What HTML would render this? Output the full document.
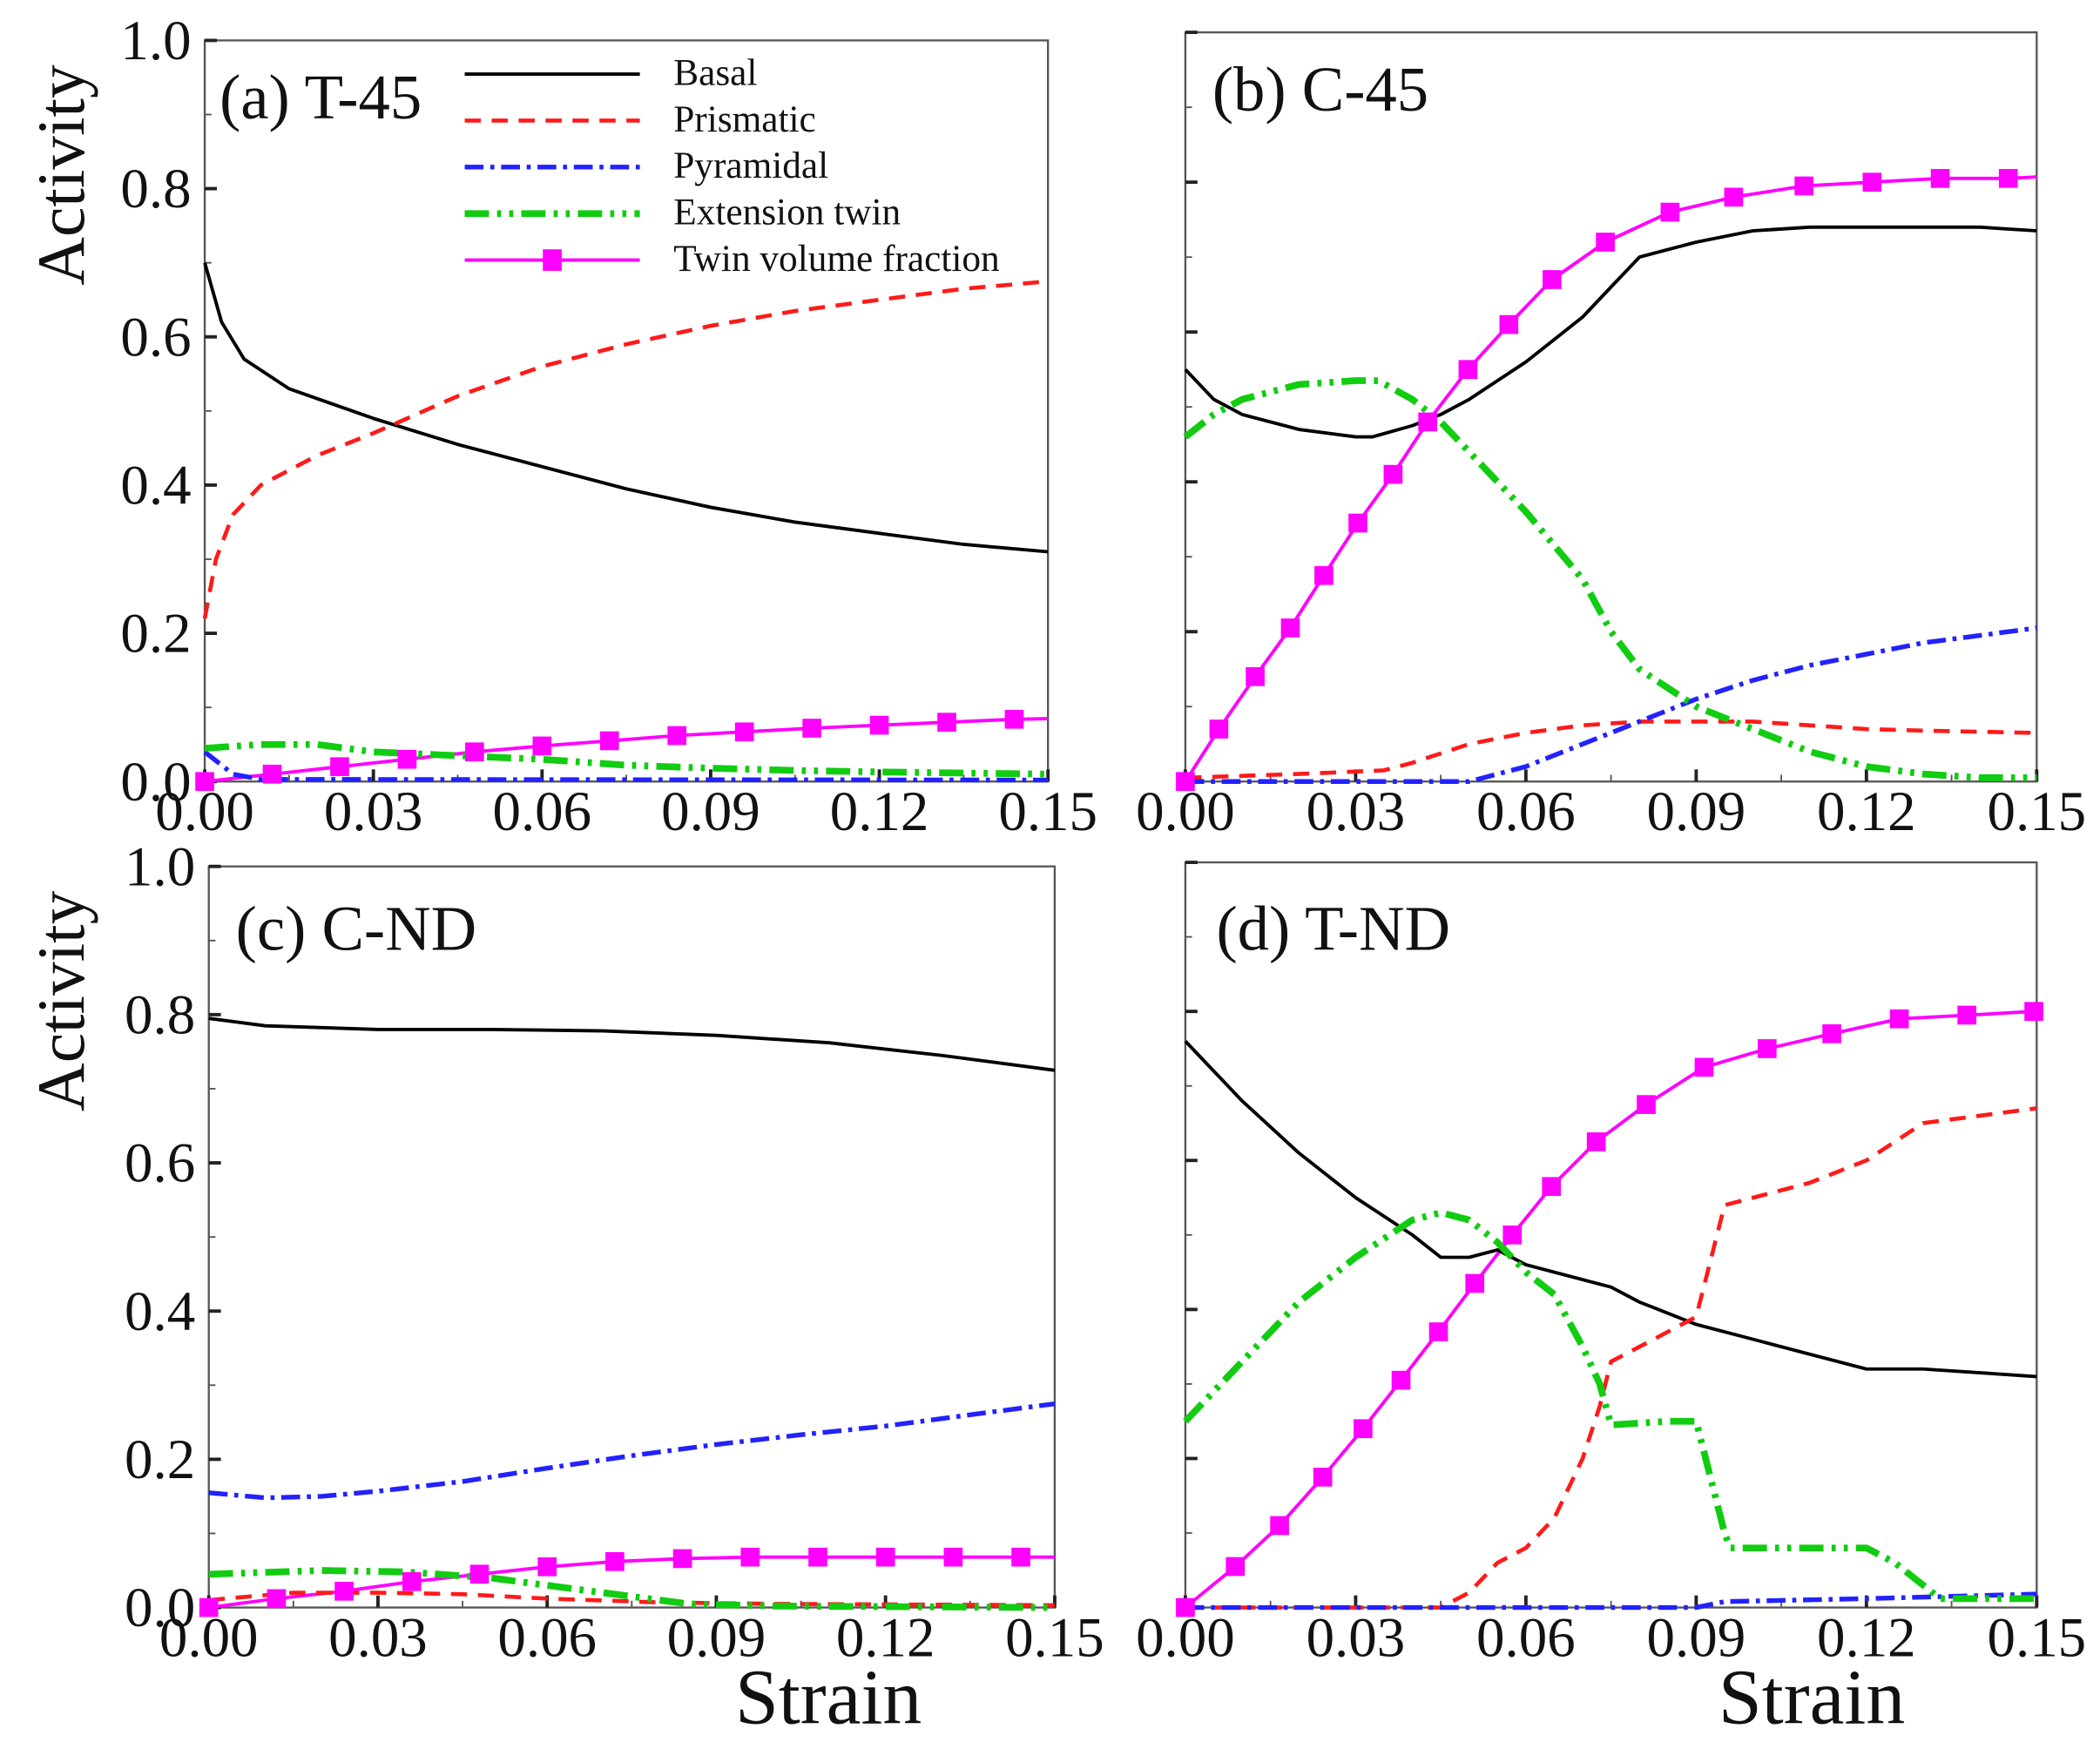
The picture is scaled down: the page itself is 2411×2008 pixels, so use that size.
<!DOCTYPE html>
<html><head><meta charset="utf-8"><style>
html,body{margin:0;padding:0;background:#fff;}
svg{display:block;}
text{font-family:"Liberation Serif",serif;fill:#111;}
</style></head><body>
<svg id="fig" width="2411" height="2008" viewBox="0 0 1559 1298" preserveAspectRatio="none" xmlns="http://www.w3.org/2000/svg"></svg>
<script>
// ---- Panel (a) T-45 ----
const aBasalX=[0,0.003,0.007,0.015,0.03,0.045,0.06,0.075,0.09,0.105,0.12,0.135,0.15];
const aBasalY=[0.70,0.62,0.57,0.53,0.49,0.455,0.425,0.395,0.37,0.35,0.335,0.32,0.31];
const aPrismX=[0,0.002,0.005,0.01,0.02,0.03,0.045,0.06,0.075,0.09,0.105,0.12,0.135,0.15];
const aPrismY=[0.22,0.30,0.36,0.40,0.44,0.47,0.52,0.56,0.59,0.615,0.635,0.65,0.665,0.675];
const aPyrX=[0,0.005,0.01,0.15];
const aPyrY=[0.04,0.01,0.003,0.002];
const aExtX=[0,0.01,0.02,0.03,0.045,0.06,0.075,0.09,0.105,0.12,0.15];
const aExtY=[0.045,0.05,0.05,0.04,0.035,0.03,0.022,0.018,0.015,0.013,0.01];
const aTvfX=[0,0.012,0.024,0.036,0.048,0.06,0.072,0.084,0.096,0.108,0.12,0.132,0.144,0.15];
const aTvfY=[0,0.01,0.02,0.03,0.04,0.048,0.055,0.062,0.067,0.072,0.076,0.08,0.084,0.085];
// ---- Panel (b) C-45 ----
const bBasalX=[0,0.005,0.01,0.02,0.03,0.033,0.04,0.045,0.05,0.06,0.07,0.075,0.08,0.09,0.1,0.11,0.12,0.13,0.14,0.15];
const bBasalY=[0.55,0.51,0.49,0.47,0.46,0.46,0.475,0.49,0.51,0.56,0.62,0.66,0.70,0.72,0.735,0.74,0.74,0.74,0.74,0.735];
const bExtX=[0,0.005,0.01,0.02,0.03,0.034,0.04,0.045,0.05,0.06,0.07,0.075,0.08,0.085,0.09,0.1,0.11,0.12,0.13,0.14,0.15];
const bExtY=[0.46,0.49,0.51,0.53,0.535,0.535,0.51,0.48,0.44,0.36,0.27,0.20,0.15,0.125,0.10,0.07,0.04,0.02,0.01,0.005,0.005];
const bPrismX=[0,0.02,0.035,0.04,0.05,0.06,0.07,0.08,0.09,0.1,0.11,0.12,0.13,0.15];
const bPrismY=[0.005,0.01,0.015,0.025,0.05,0.065,0.075,0.08,0.08,0.08,0.075,0.07,0.068,0.065];
const bPyrX=[0,0.05,0.06,0.07,0.08,0.09,0.1,0.11,0.12,0.13,0.14,0.15];
const bPyrY=[0,0,0.02,0.05,0.08,0.11,0.135,0.155,0.17,0.185,0.195,0.205];
const bTvfX=[0,0.0059,0.0123,0.0185,0.0244,0.0304,0.0366,0.0427,0.0498,0.057,0.0646,0.074,0.0854,0.0966,0.109,0.121,0.133,0.145,0.15];
const bTvfY=[0,0.07,0.14,0.205,0.275,0.345,0.41,0.48,0.55,0.61,0.67,0.72,0.76,0.78,0.795,0.80,0.805,0.805,0.807];
// ---- Panel (c) C-ND ----
const cBasalX=[0,0.01,0.03,0.05,0.07,0.09,0.11,0.13,0.15];
const cBasalY=[0.795,0.785,0.78,0.78,0.778,0.772,0.762,0.745,0.725];
const cPyrX=[0,0.01,0.02,0.03,0.045,0.06,0.075,0.09,0.105,0.12,0.135,0.15];
const cPyrY=[0.155,0.148,0.15,0.157,0.17,0.188,0.205,0.22,0.233,0.245,0.26,0.275];
const cExtX=[0,0.02,0.035,0.05,0.065,0.075,0.085,0.1,0.15];
const cExtY=[0.045,0.05,0.048,0.04,0.025,0.015,0.005,0.002,0];
const cPrismX=[0,0.015,0.03,0.045,0.06,0.08,0.1,0.15];
const cPrismY=[0.01,0.02,0.02,0.018,0.012,0.007,0.005,0.003];
const cTvfX=[0,0.012,0.024,0.036,0.048,0.06,0.072,0.084,0.096,0.108,0.12,0.132,0.144,0.15];
const cTvfY=[0,0.012,0.022,0.035,0.045,0.055,0.062,0.066,0.068,0.068,0.068,0.068,0.068,0.068];
// ---- Panel (d) T-ND ----
const dBasalX=[0,0.01,0.02,0.03,0.04,0.045,0.05,0.055,0.06,0.07,0.075,0.08,0.09,0.1,0.11,0.12,0.13,0.14,0.15];
const dBasalY=[0.76,0.68,0.61,0.55,0.50,0.47,0.47,0.48,0.46,0.44,0.43,0.41,0.38,0.36,0.34,0.32,0.32,0.315,0.31];
const dExtX=[0,0.01,0.02,0.03,0.04,0.045,0.05,0.055,0.06,0.065,0.07,0.073,0.075,0.085,0.09,0.095,0.096,0.12,0.125,0.13,0.133,0.15];
const dExtY=[0.25,0.33,0.41,0.47,0.52,0.53,0.52,0.49,0.45,0.42,0.35,0.30,0.245,0.25,0.25,0.10,0.08,0.08,0.06,0.03,0.012,0.012];
const dPrismX=[0,0.045,0.05,0.055,0.06,0.065,0.07,0.073,0.075,0.08,0.09,0.095,0.11,0.12,0.13,0.15];
const dPrismY=[0,0,0.02,0.06,0.08,0.12,0.20,0.27,0.33,0.35,0.39,0.54,0.57,0.60,0.65,0.67];
const dPyrX=[0,0.09,0.095,0.12,0.15];
const dPyrY=[0,0,0.008,0.012,0.018];
const dTvfX=[0,0.0088,0.0166,0.0242,0.0313,0.038,0.0446,0.051,0.0576,0.0645,0.0724,0.0812,0.0914,0.1025,0.1139,0.1258,0.1377,0.1495];
const dTvfY=[0,0.055,0.11,0.175,0.24,0.305,0.37,0.435,0.5,0.565,0.625,0.675,0.725,0.75,0.77,0.79,0.795,0.80];
const xTickLabels=["0.00","0.03","0.06","0.09","0.12","0.15"];
const xTickVals=[0,0.03,0.06,0.09,0.12,0.15];
const yTickLabels=["0.0","0.2","0.4","0.6","0.8","1.0"];
const yTickVals=[0,0.2,0.4,0.6,0.8,1.0];

const NS="http://www.w3.org/2000/svg";
const svg=document.getElementById('fig');
function mk(tag,attrs,parent){const e=document.createElementNS(NS,tag);for(const k in attrs)e.setAttribute(k,attrs[k]);(parent||svg).appendChild(e);return e;}

const panels=[
 {id:'a',x0:152,x1:778,y0:580,y1:30,title:'(a) T-45',tx:163,ty:88,ylab:true,xlabel:false,
  s:{basal:[aBasalX,aBasalY],prism:[aPrismX,aPrismY],pyr:[aPyrX,aPyrY],ext:[aExtX,aExtY],tvf:[aTvfX,aTvfY]}},
 {id:'b',x0:880,x1:1512,y0:580,y1:24,title:'(b) C-45',tx:900,ty:82,ylab:false,xlabel:false,
  s:{basal:[bBasalX,bBasalY],prism:[bPrismX,bPrismY],pyr:[bPyrX,bPyrY],ext:[bExtX,bExtY],tvf:[bTvfX,bTvfY]}},
 {id:'c',x0:155,x1:783,y0:1193,y1:643,title:'(c) C-ND',tx:175,ty:705,ylab:true,xlabel:true,lx:615,
  s:{basal:[cBasalX,cBasalY],prism:[cPrismX,cPrismY],pyr:[cPyrX,cPyrY],ext:[cExtX,cExtY],tvf:[cTvfX,cTvfY]}},
 {id:'d',x0:880,x1:1512,y0:1193,y1:640,title:'(d) T-ND',tx:903,ty:705,ylab:false,xlabel:true,lx:1345,
  s:{basal:[dBasalX,dBasalY],prism:[dPrismX,dPrismY],pyr:[dPyrX,dPyrY],ext:[dExtX,dExtY],tvf:[dTvfX,dTvfY]}}
];
const styles={
 basal:{stroke:'#000','stroke-width':2.5},
 prism:{stroke:'#ff1a1a','stroke-width':3,'stroke-dasharray':'12,8'},
 pyr:{stroke:'#2222ff','stroke-width':3.5,'stroke-dasharray':'14,5,3,5'},
 ext:{stroke:'#11cc11','stroke-width':5,'stroke-dasharray':'18,6,3,6,3,6'},
 tvf:{stroke:'#ff00ff','stroke-width':2.5}
};
panels.forEach(p=>{
  const g=mk('g',{});
  
  
  const xs=v=>p.x0+(v/0.15)*(p.x1-p.x0);
  const ys=v=>p.y0+v*(p.y1-p.y0);
  const box=mk('rect',{x:p.x0,y:p.y1,width:p.x1-p.x0,height:p.y0-p.y1,fill:'none',stroke:'#555','stroke-width':1.5},g);
  
  
  yTickVals.forEach((v,i)=>{
    mk('line',{x1:p.x0,x2:p.x0+9,y1:ys(v),y2:ys(v),stroke:'#222','stroke-width':2.5},g);
    if(i<5) mk('line',{x1:p.x0,x2:p.x0+5,y1:ys(v+0.1),y2:ys(v+0.1),stroke:'#555','stroke-width':1.2},g);
    if(p.ylab){const t=mk('text',{x:p.x0-10,y:ys(v)+14,'text-anchor':'end','font-size':42},g);t.textContent=yTickLabels[i];
      }
  });
  xTickVals.forEach((v,i)=>{
    mk('line',{x1:xs(v),x2:xs(v),y1:p.y0,y2:p.y0-9,stroke:'#222','stroke-width':2.5},g);
    if(i<5) mk('line',{x1:xs(v+0.015),x2:xs(v+0.015),y1:p.y0,y2:p.y0-5,stroke:'#555','stroke-width':1.2},g);
    const t=mk('text',{x:xs(v),y:p.y0+36,'text-anchor':'middle','font-size':42},g);t.textContent=xTickLabels[i];
    
  });
  if(p.ylab){const t=mk('text',{x:0,y:0,'font-size':50,'text-anchor':'middle',transform:`translate(62,${(p.y0+p.y1)/2-175}) rotate(-90)`},g);
    t.textContent='Activity';}
  if(p.xlabel){const t=mk('text',{x:p.lx,y:p.y0+86,'font-size':58,'text-anchor':'middle'},g);
    t.textContent='Strain';}
  const tt=mk('text',{x:p.tx,y:p.ty,'font-size':47},g);tt.textContent=p.title;
  
  ['tvf','basal','prism','pyr','ext'].forEach(k=>{
    const [X,Y]=p.s[k];
    const pts=X.map((x,i)=>xs(x).toFixed(1)+','+ys(Y[i]).toFixed(1)).join(' ');
    const pl=mk('polyline',Object.assign({points:pts,fill:'none','stroke-linejoin':'round'},styles[k]),g);
    
    
  });
  const [TX,TY]=p.s.tvf;
  TX.forEach((x,i)=>{
    if(p.id!=='d' && i===TX.length-1) return;
    const m=mk('rect',{x:xs(x)-7,y:ys(TY[i])-7,width:14,height:14,fill:'#ff00ff'},g);
    
    
  });
});
// legend
const lg=mk('g',{});


const legNames=['Basal','Prismatic','Pyramidal','Extension twin','Twin volume fraction'];
const legKeys=['basal','prism','pyr','ext','tvf'];
legKeys.forEach((k,i)=>{
  const y=55+i*34.5;
  const ln=mk('line',Object.assign({x1:345,x2:475,y1:y,y2:y},styles[k]),lg);
  
  if(k==='tvf'){mk('rect',{x:403,y:y-8,width:14,height:16,fill:'#ff00ff'},lg);}
  const t=mk('text',{x:500,y:y+8,'font-size':28},lg);t.textContent=legNames[i];
  
});
</script>
</body></html>
